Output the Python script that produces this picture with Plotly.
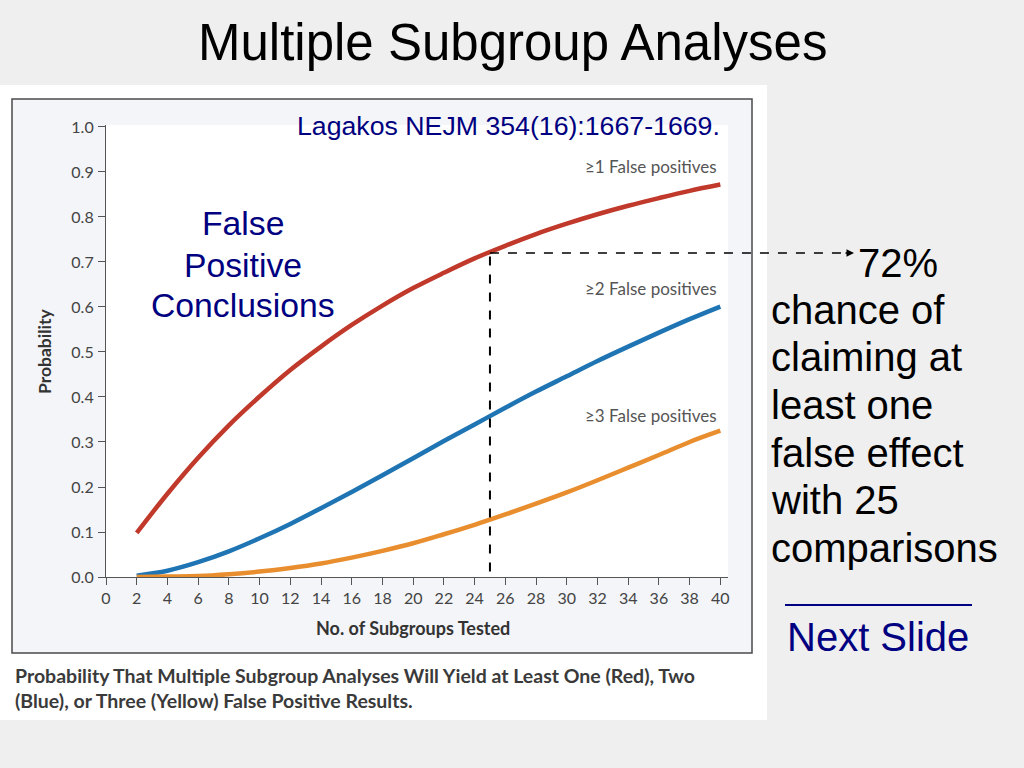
import plotly.graph_objects as go

# ---- data ----
n_subgroups = [2, 4, 6, 8, 10, 12, 14, 16, 18, 20, 22, 24, 26, 28, 30, 32, 34, 36, 38, 40]
p_ge1 = [0.098, 0.185, 0.265, 0.337, 0.401, 0.460, 0.512, 0.560, 0.603, 0.642,
         0.676, 0.708, 0.736, 0.762, 0.785, 0.806, 0.825, 0.842, 0.858, 0.872]
p_ge2 = [0.003, 0.014, 0.033, 0.057, 0.086, 0.118, 0.153, 0.189, 0.226, 0.264,
         0.302, 0.339, 0.376, 0.412, 0.446, 0.480, 0.512, 0.543, 0.573, 0.601]
p_ge3 = [0.000, 0.001, 0.002, 0.006, 0.012, 0.020, 0.030, 0.043, 0.058, 0.075,
         0.095, 0.116, 0.139, 0.163, 0.188, 0.215, 0.243, 0.271, 0.300, 0.325]
series_labels = ["\u22651 False positives", "\u22652 False positives", "\u22653 False positives"]
series_colors = ["#c0392b", "#1f74b3", "#e88e2e"]
x_ticks = list(range(0, 41, 2))
y_ticks = [i / 10 for i in range(0, 11)]
highlight_n = 25
highlight_p = 0.72

W, H = 1024, 768
L, R, T, B = 106, 296, 125, 191
PW, PH = W - L - R, H - T - B
X_RANGE = [0, 40.5]
Y_RANGE = [0, 1.0044]


def px(xp):
    return (xp - L) / PW


def py(yp):
    return (H - B - yp) / PH


def dx(v):
    return (v - X_RANGE[0]) / (X_RANGE[1] - X_RANGE[0])


def dy(v):
    return (v - Y_RANGE[0]) / (Y_RANGE[1] - Y_RANGE[0])


fig = go.Figure()
for vals, name, col in zip([p_ge1, p_ge2, p_ge3], series_labels, series_colors):
    fig.add_trace(go.Scatter(x=n_subgroups, y=vals, mode="lines", name=name,
                             line=dict(color=col, width=4.5, shape="spline", smoothing=1.0),
                             showlegend=False, hoverinfo="skip"))

shapes = [
    dict(type="rect", xref="paper", yref="paper", x0=px(0), x1=px(767), y0=py(720), y1=py(85),
         fillcolor="white", line=dict(width=0), layer="below"),
    dict(type="rect", xref="paper", yref="paper", x0=px(12), x1=px(752), y0=py(653), y1=py(99),
         fillcolor="#f3f5f8", line=dict(color="#4a4a4a", width=1.5), layer="below"),
    dict(type="rect", xref="paper", yref="paper", x0=0, x1=1, y0=0, y1=1,
         fillcolor="white", line=dict(width=0), layer="below"),
    dict(type="line", xref="paper", yref="paper", x0=dx(highlight_n), x1=dx(highlight_n),
         y0=dy(0.012), y1=dy(highlight_p), line=dict(color="black", width=2, dash="dash")),
    dict(type="line", xref="paper", yref="paper", x0=dx(highlight_n), x1=px(846),
         y0=dy(highlight_p), y1=dy(highlight_p), line=dict(color="black", width=1.5, dash="dash")),
    dict(type="line", xref="paper", yref="paper", x0=px(785), x1=px(972),
         y0=py(605), y1=py(605), line=dict(color="#000080", width=2)),
]

nejm = "Lato"
arial = "Liberation Sans, Arial"
ann = []
ann.append(dict(xref="paper", yref="paper", x=px(854), y=dy(highlight_p), ax=-10, ay=0,
                showarrow=True, arrowhead=2, arrowsize=1, arrowwidth=1.5, arrowcolor="black", text=""))
ann.append(dict(xref="paper", yref="paper", x=px(512), y=py(42), text="Multiple Subgroup Analyses",
                showarrow=False, xanchor="center", yanchor="middle",
                font=dict(family=arial, size=51, color="black")))
ann.append(dict(xref="paper", yref="paper", x=px(722), y=py(126), text="Lagakos NEJM 354(16):1667-1669.",
                showarrow=False, xanchor="right", yanchor="middle",
                font=dict(family=arial, size=26.7, color="#000080")))
for txt, yy in zip(["False", "Positive", "Conclusions"], [223, 265, 305]):
    ann.append(dict(xref="paper", yref="paper", x=px(243), y=py(yy), text=txt, showarrow=False,
                    xanchor="center", yanchor="middle",
                    font=dict(family=arial, size=33.7, color="#000080")))
ann.append(dict(xref="paper", yref="paper", x=px(856), y=py(263), text="72%", showarrow=False,
                xanchor="left", yanchor="middle",
                font=dict(family=arial, size=40, color="black")))
for txt, yy in zip(["chance of", "claiming at", "least one", "false effect", "with 25", "comparisons"],
                   [310, 357, 405, 453, 500, 548]):
    ann.append(dict(xref="paper", yref="paper", x=px(769), y=py(yy), text=txt, showarrow=False,
                    xanchor="left", yanchor="middle",
                    font=dict(family=arial, size=40, color="black")))
ann.append(dict(xref="paper", yref="paper", x=px(878), y=py(637), text="Next Slide", showarrow=False,
                xanchor="center", yanchor="middle",
                font=dict(family=arial, size=40, color="#000080")))
for txt, yy in zip(series_labels, [166, 288, 415]):
    ann.append(dict(xref="paper", yref="paper", x=px(719), y=py(yy), text=txt, showarrow=False,
                    xanchor="right", yanchor="middle",
                    font=dict(family=nejm, size=17, color="#555555")))
ann.append(dict(xref="paper", yref="paper", x=px(413), y=py(628), text="<b>No. of Subgroups Tested</b>",
                showarrow=False, xanchor="center", yanchor="middle",
                font=dict(family=nejm, size=18, color="#333333")))
ann.append(dict(xref="paper", yref="paper", x=px(44), y=py(351), text="<b>Probability</b>",
                showarrow=False, xanchor="center", yanchor="middle", textangle=-90,
                font=dict(family=nejm, size=17.5, color="#333333")))
for txt, yy in zip(["<b>Probability That Multiple Subgroup Analyses Will Yield at Least One (Red), Two</b>",
                    "<b>(Blue), or Three (Yellow) False Positive Results.</b>"], [675, 700]):
    ann.append(dict(xref="paper", yref="paper", x=px(13), y=py(yy), text=txt, showarrow=False,
                    xanchor="left", yanchor="middle",
                    font=dict(family=nejm, size=19.5, color="#3a3a3a")))

axis_common = dict(showline=True, linecolor="#555555", linewidth=1.2, ticks="outside", ticklen=7,
                   tickcolor="#555555", tickwidth=1.2, showgrid=False, zeroline=False,
                   tickfont=dict(family=nejm, size=16, color="#444444"))

fig.update_layout(
    width=W, height=H,
    margin=dict(l=L, r=R, t=T, b=B, pad=0),
    paper_bgcolor="#efefef",
    plot_bgcolor="rgba(0,0,0,0)",
    xaxis=dict(range=X_RANGE, tickvals=x_ticks, **axis_common),
    yaxis=dict(range=Y_RANGE, tickvals=y_ticks, tickformat=".1f", ticklabelstandoff=1, **axis_common),
    shapes=shapes,
    annotations=ann,
)

fig.write_html("out.html", config={"displayModeBar": False},
               post_script="document.body.style.margin='0';document.body.style.padding='0';"
                           "document.body.style.background='#efefef';")
